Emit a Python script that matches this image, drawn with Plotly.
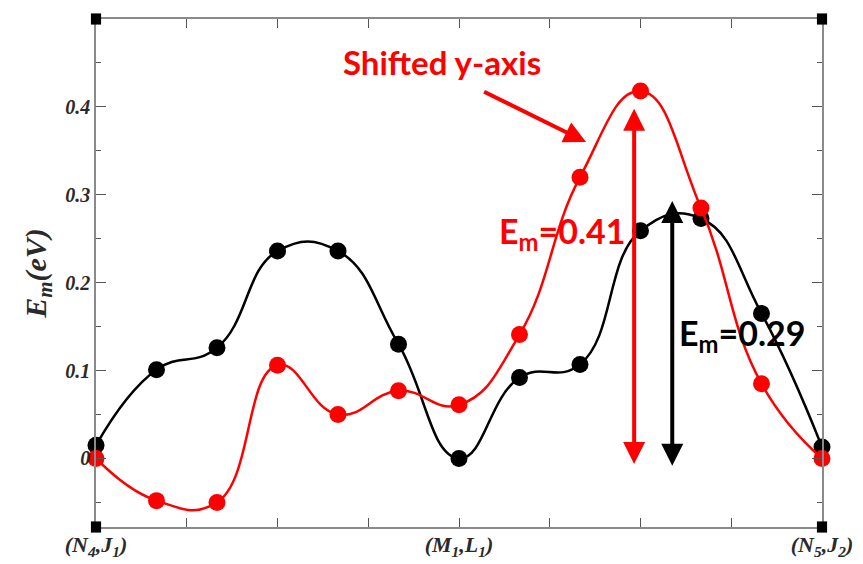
import plotly.graph_objects as go

# ---- data ----
path_positions = [i * 2 / 3 for i in range(13)]  # reaction-coordinate images
black_energy = [0.015, 0.101, 0.126, 0.236, 0.236, 0.130, 0.000, 0.092, 0.107, 0.259, 0.273, 0.165, 0.013]
red_energy = [0.000, -0.048, -0.050, 0.106, 0.050, 0.077, 0.061, 0.141, 0.320, 0.418, 0.285, 0.085, 0.000]
x_tick_vals = [0, 1, 2, 3, 4, 5, 6, 7, 8]
x_tick_text = ["(N<sub>4</sub>,J<sub>1</sub>)", "", "", "", "(M<sub>1</sub>,L<sub>1</sub>)", "", "", "", "(N<sub>5</sub>,J<sub>2</sub>)"]
y_tick_vals = [0, 0.1, 0.2, 0.3, 0.4]
y_tick_text = ["0", "0.1", "0.2", "0.3", "0.4"]

serif = dict(family="Liberation Serif", size=20, color="#2a2a2a", weight="bold", style="italic")
axis_col = "#8a8a8a"

fig = go.Figure()
fig.add_trace(go.Scatter(x=path_positions, y=black_energy, mode="lines+markers",
                         line=dict(color="black", width=2.5, shape="spline", smoothing=1.3),
                         marker=dict(color="black", size=17), cliponaxis=False, showlegend=False))
fig.add_trace(go.Scatter(x=path_positions, y=red_energy, mode="lines+markers",
                         line=dict(color="#ff0000", width=2.5, shape="spline", smoothing=1.3),
                         marker=dict(color="#ff0000", size=17), cliponaxis=False, showlegend=False))

fig.update_xaxes(range=[0, 8], tickvals=x_tick_vals, ticktext=x_tick_text, automargin=False,
                 showline=True, linecolor=axis_col, linewidth=1.5, mirror="ticks",
                 ticks="inside", ticklen=9, tickcolor="#555555", tickwidth=1.2,
                 ticklabelstandoff=-3,
                 showgrid=False, zeroline=False, tickfont=dict(serif, size=22))
fig.update_yaxes(range=[-0.078, 0.5], tickvals=y_tick_vals, ticktext=y_tick_text, automargin=False,
                 showline=True, linecolor=axis_col, linewidth=1.5, mirror="ticks",
                 ticks="inside", ticklen=10, tickcolor="#555555", tickwidth=1.2,
                 minor=dict(dtick=0.05, tick0=0, ticks="inside", ticklen=5, tickcolor="#555555"),
                 showgrid=False, zeroline=False, tickfont=serif,
                 title=dict(text="E<sub>m</sub>(eV)", font=dict(serif, size=30), standoff=10))

# corner squares
for cx, cy in [(0, 0), (1, 0), (0, 1), (1, 1)]:
    fig.add_shape(type="rect", xref="paper", yref="paper",
                  x0=cx - 0.007, x1=cx + 0.007, y0=cy - 0.011, y1=cy + 0.011,
                  fillcolor="black", line=dict(width=0))

sans = dict(family="Lato", weight="bold")
fig.add_annotation(x=3.81, y=0.451, xref="x", yref="y", text="Shifted y-axis", showarrow=False,
                   font=dict(sans, size=33, color="#ff0000"))
fig.add_annotation(x=5.4, y=0.36, ax=4.26, ay=0.418, xref="x", yref="y", axref="x", ayref="y",
                   text="", showarrow=True, arrowhead=2, arrowsize=1.1, arrowwidth=4, arrowcolor="#ff0000")
fig.add_annotation(x=5.93, y=0.398, ax=5.93, ay=-0.008, xref="x", yref="y", axref="x", ayref="y",
                   text="", showarrow=True, arrowhead=2, arrowside="end+start", arrowsize=1.1,
                   arrowwidth=4, arrowcolor="#ff0000")
fig.add_annotation(x=6.35, y=0.293, ax=6.35, ay=-0.010, xref="x", yref="y", axref="x", ayref="y",
                   text="", showarrow=True, arrowhead=2, arrowside="end+start", arrowsize=1.1,
                   arrowwidth=4, arrowcolor="black")
fig.add_annotation(x=5.13, y=0.257, xref="x", yref="y", text="E<sub>m</sub>=0.41", showarrow=False,
                   font=dict(sans, size=34, color="#ff0000"))
fig.add_annotation(x=7.12, y=0.14, xref="x", yref="y", text="E<sub>m</sub>=0.29", showarrow=False,
                   font=dict(sans, size=34, color="black"))

fig.update_layout(width=863, height=564, margin=dict(l=96, r=41, t=19, b=37),
                  plot_bgcolor="white", paper_bgcolor="white")
fig.write_html("out.html")
